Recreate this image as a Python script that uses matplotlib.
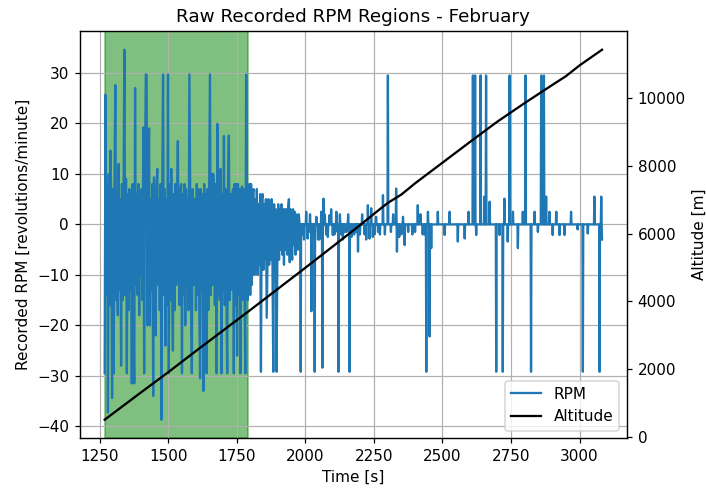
import numpy as np
import matplotlib
matplotlib.use("Agg")
from matplotlib import pyplot as plt

# region of interest (green)
region_start = 1268
region_end = 1790

# dense part of the RPM record, sampled every ~3 s from 1268 s to 1979 s
dense_start = 1268
dense_end = 1979
dense_rpm = [
    -29.5, 25.7, -14, 8, -37.3, 10, -16, 14.6, 5, -34.4,
    7, -29.5, 9, 27.6, -15, 6, -18, 12, -13, 5,
    -28, 8, -15, 6, 34.6, -14, 9, -29.5, 6, -17,
    7, -13, 5, -31.5, 8, -16, -31.5, 27, -12, 6,
    -14, 8, -18, 5, -10, 7, -15, 19.2, -29.5, 8,
    29.7, 29.7, -20, 6, 19, -20, 5, -13, 8, -34,
    9.3, -15, -22, 7, 11, -12, 5, -17, 8, -38.7,
    6, 29.7, -14, 7, -24, 5, -16, 29.7, -29.5, 8,
    -15, 11, -13, -25, 6, -17, 8, -12, 5, 16.5,
    -9, -16, 7, 8, -29.5, 6, -14, 8, -20, 7,
    -13, 5, -17, 29.7, 6, -15, -29.5, 7, -12, 5,
    5, -17, 8, -14, 7, -16, -30.5, 7, -13, 6,
    -33, 8, -15, 6, -29.5, 7, -17, 5, 29.7, -14,
    10, -12, 10, 6, -16, 8, -29.5, 19.9, -14, 7,
    -15, 11, -29.5, 6, -13, 17.5, -16, 7, -14, -29.5,
    8, 17.6, -15, 6, -13, 5, 7, -29.5, 8, -16,
    8, -26, 8, -14, 7, -29.5, 6, 7.5, -15, 7,
    -13, -29.5, 29.7, 7, -15, 6, 8, -14, 8, -12,
    6, 7, -10, 5, -9, 7, -10, 4, -8, 6,
    -29.2, 5, 6, -9, 4, -7, 5, -18.5, -6, 5,
    -8, 4, -7, 5, -8, -29.2, 4, -7, 3, -29.2,
    -6, 4, -7, 3, -5, 4, -6, 3, -8, 3,
    -5, 3, -6, 3, 5, -7.5, 3, -5, -7, 3,
    -4, 2.5, -6, 2, -4, -5, 2, 0,
]

# quiet part: RPM sits at 0 apart from these single-sample spikes
spike_t = [1983, 1988, 1995, 2003, 2008, 2013, 2017, 2022, 2028, 2034,
           2040, 2046, 2051, 2058, 2062, 2066, 2071, 2076, 2082, 2088,
           2094, 2100, 2106, 2113, 2117, 2121, 2126, 2131, 2137, 2143,
           2150, 2156, 2161, 2168, 2178, 2185, 2192, 2199, 2207, 2216,
           2222, 2228, 2234, 2240, 2246, 2252, 2258, 2265, 2272, 2283,
           2290, 2301, 2312, 2320, 2331, 2334, 2342, 2350, 2356, 2362,
           2375, 2390, 2400, 2410, 2420, 2428, 2435, 2441, 2447, 2453,
           2459, 2483, 2508, 2526, 2556, 2581, 2595, 2611, 2619, 2623,
           2639, 2653, 2659, 2672, 2696, 2708, 2720, 2726, 2738, 2745,
           2757, 2775, 2793, 2803, 2823, 2836, 2848, 2860, 2870, 2878,
           2890, 2902, 2915, 2927, 2945, 2969, 2993, 3012, 3030, 3054,
           3073, 3079]
spike_rpm = [-29.2, -2, -3, 2.5, -2.8, -1.5, 2, -17.2, -2.5, -29.2,
             1.5, -3, -3, 2.5, -28.4, 5.1, 2, -2, -2.5, 1.8,
             3, -2.1, -2, 2.5, -1.5, -29.2, 2, -2, -3, -1.5,
             -1.5, 2, -29.2, -2.5, -2, -1.5, -5.4, -2, 2, -2,
             -3, 3.8, -2.8, 3.2, -2.5, -2, 1.5, -1.5, -2, 5.8,
             -2, 29.5, -1.5, 2, 7.1, -5.4, -2.5, -2, 1.5, -4.1,
             -1.5, -2, -1.5, 3.8, 2, -2, -2, -29.2, 2.5, -22.2,
             -4.7, 2.5, -2.1, 2.5, -3.4, -2.8, 2.5, 29.5, 29.5, -2.1,
             29.5, 5.5, 29.5, 4.5, -29.2, -2.1, -29.2, 5.1, -3.4, 29.5,
             2.5, -4.7, 2.5, 29.5, -29.2, 2.5, -1.5, 29.5, 29.5, 5.5,
             2.5, -2.1, 2.5, -2.1, -2.1, 2.5, -1, -29.2, -1.8, 5.5,
             -29.2, 5.5]
last_t = 3082
last_rpm = -3

# altitude readings
alt_t = [1268, 1400, 1500, 1600, 1700, 1800, 1900, 2000, 2100, 2200,
         2250, 2300, 2350, 2400, 2500, 2600, 2700, 2800, 2900, 2950,
         3000, 3082]
alt_m = [508, 1310, 1910, 2530, 3140, 3750, 4370, 4990, 5620, 6250,
         6580, 6900, 7150, 7480, 8090, 8700, 9300, 9850, 10380, 10640,
         10960, 11422]

# build the full RPM trace
t = list(np.linspace(dense_start, dense_end, len(dense_rpm)))
rpm = list(dense_rpm)
for st, sv in zip(spike_t, spike_rpm):
    t += [st - 1.5, st, st + 1.5]
    rpm += [0, sv, 0]
t.append(last_t)
rpm.append(last_rpm)

fig, ax = plt.subplots(figsize=(706 / 110, 488 / 110), dpi=110)
ax.axvspan(region_start, region_end, color="green", alpha=0.5)
l1, = ax.plot(t, rpm, color="tab:blue", label="RPM")
ax.set_xlabel("Time [s]")
ax.set_ylabel("Recorded RPM [revolutions/minute]")
ax.grid()

ax2 = ax.twinx()
l2, = ax2.plot(alt_t, alt_m, color="black", label="Altitude")
ax2.set_ylabel("Altitude [m]")

ax2.legend(handles=[l1, l2], loc="lower right")
plt.title("Raw Recorded RPM Regions - February")
plt.subplots_adjust(left=0.113, right=0.888, bottom=0.102, top=0.936)
plt.savefig("out.png", dpi=110)
